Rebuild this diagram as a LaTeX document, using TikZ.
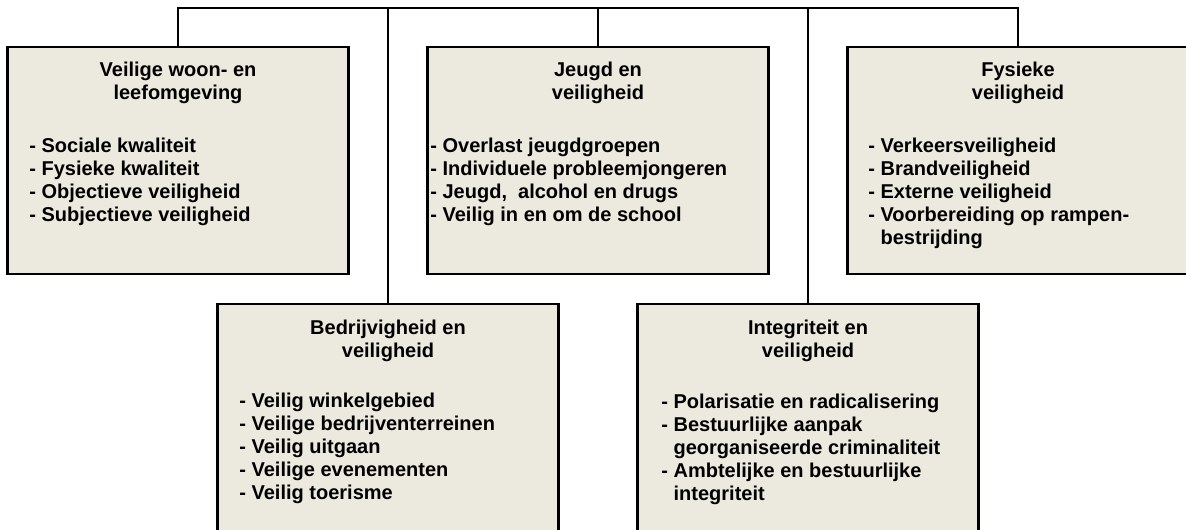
\documentclass[tikz,border=0pt]{standalone}
\usepackage{fontspec}
\setmainfont{Liberation Sans}
\usetikzlibrary{positioning}
\definecolor{boxfill}{RGB}{236,233,222}

\tikzset{
  themabox/.style={draw=black, line width=1.1pt, fill=boxfill, minimum width=170.5pt, inner sep=0pt, anchor=north},
  boven/.style={themabox, minimum height=113.5pt},
  onder/.style={themabox, minimum height=120pt},
  titel/.style={font={\bfseries\fontsize{10}{11.5}\selectfont}, align=center, anchor=base, inner sep=0pt},
  lijst/.style={font={\bfseries\fontsize{10}{11.5}\selectfont}, align=left, anchor=base west, inner sep=0pt},
  lijn/.style={line width=0.8pt}
}

\begin{document}
\begin{tikzpicture}[x=0.5pt, y=-0.5pt]
	\useasboundingbox (0,0) rectangle (1186,529);
	\clip (0,0) rectangle (1186,529);
	%top row
	\node[boven] (woon) at (178,46) {};
	\node[boven] (jeugd) at (598,46) {};
	\node[boven] (fysiek) at (1018,46) {};
	%bottom row
	\node[onder] (bedrijf) at (388,303) {};
	\node[onder] (integer) at (808,303) {};
	%lines
	\coordinate (links) at (178,8);
	\coordinate (rechts) at (1018,8);
	\draw[lijn] (woon.north) -- (links) -- (rechts) -- (fysiek.north);
	\draw[lijn] (jeugd.north) -- (jeugd.north |- links);
	\draw[lijn] (bedrijf.north) -- (bedrijf.north |- links);
	\draw[lijn] (integer.north) -- (integer.north |- links);
	%titles (base = last line)
	\node[titel] (woonT) at (178,100) {Veilige woon- en\\leefomgeving};
	\node[titel] (jeugdT) at (598,100) {Jeugd en\\veiligheid};
	\node[titel] (fysiekT) at (1018,100) {Fysieke\\veiligheid};
	\node[titel] (bedrijfT) at (388,357) {Bedrijvigheid en\\veiligheid};
	\node[titel] (integerT) at (808,357) {Integriteit en\\veiligheid};
	%lists
	\node[lijst] (woonL) at (29,221) {- Sociale kwaliteit\\- Fysieke kwaliteit\\- Objectieve veiligheid\\- Subjectieve veiligheid};
	\node[lijst] (jeugdL) at (430,221) {- Overlast jeugdgroepen\\- Individuele probleemjongeren\\- Jeugd,\ \ alcohol en drugs\\- Veilig in en om de school};
	\node[lijst] (fysiekL) at (868,244) {- Verkeersveiligheid\\- Brandveiligheid\\- Externe veiligheid\\- Voorbereiding op rampen-\\\hphantom{- }bestrijding};
	\node[lijst] (bedrijfL) at (239,499) {- Veilig winkelgebied\\- Veilige bedrijventerreinen\\- Veilig uitgaan\\- Veilige evenementen\\- Veilig toerisme};
	\node[lijst] (integerL) at (661,500) {- Polarisatie en radicalisering\\- Bestuurlijke aanpak\\\hphantom{- }georganiseerde criminaliteit\\- Ambtelijke en bestuurlijke\\\hphantom{- }integriteit};
\end{tikzpicture}
\end{document}
